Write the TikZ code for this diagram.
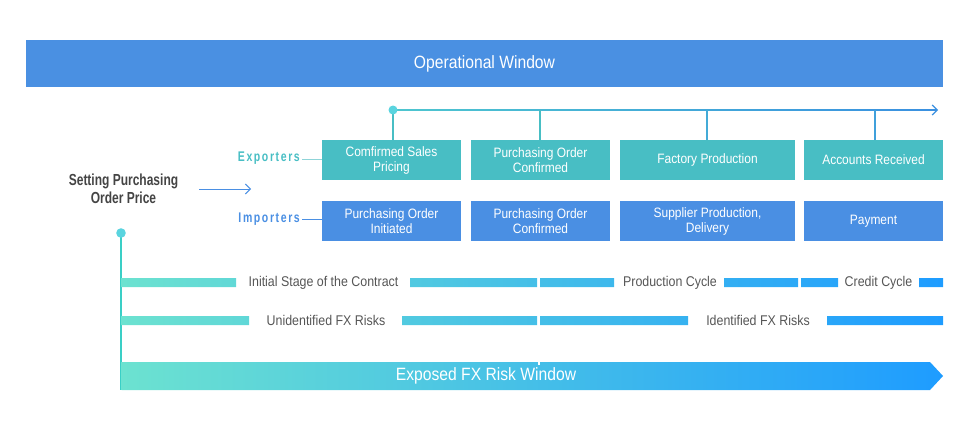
\documentclass[tikz,border=0pt]{standalone}
\usepackage{fontspec}
\setmainfont{Liberation Sans}[FakeStretch=0.88]
\newfontfamily\condbold{Liberation Sans Bold}[FakeStretch=0.75]
\newfontfamily\spacedfont{Liberation Sans Bold}[FakeStretch=0.75,LetterSpace=11.5]
\usetikzlibrary{arrows.meta}
\definecolor{banner}{HTML}{4A90E2}
\definecolor{tealbox}{HTML}{48BEC4}
\definecolor{bluebox}{HTML}{4A8FE3}
\definecolor{graytext}{HTML}{555555}
\definecolor{darktext}{HTML}{444444}
\definecolor{gA}{HTML}{6CE2D0}
\definecolor{gB}{HTML}{1E9CFF}
\definecolor{tlA}{HTML}{4EC6CF}
\definecolor{tlB}{HTML}{3A90E0}
\definecolor{dotc}{HTML}{5AD4DF}
\definecolor{vline}{HTML}{3ACFC6}
\definecolor{explink}{HTML}{8FD4D8}
\tikzset{
  expbox/.style={fill=tealbox, text=white, inner sep=0pt, minimum height=40pt, align=center, font=\fontsize{13.6}{15}\selectfont},
  impbox/.style={fill=bluebox, text=white, inner sep=0pt, minimum height=40pt, align=center, font=\fontsize{13.6}{15}\selectfont},
  barlabel/.style={text=graytext, inner sep=0pt, font=\fontsize{14.1}{16}\selectfont},
  sidelabel/.style={inner sep=0pt, anchor=east, font=\spacedfont\fontsize{14}{16}\selectfont},
  openarrow/.style={-{Straight Barb[length=5pt,width=10pt]}},
}
\begin{document}
\begin{tikzpicture}[x=1pt,y=-1pt]
\useasboundingbox (0,0) rectangle (976,428);
% banner
\node[fill=banner, text=white, minimum width=917pt, minimum height=47pt, inner sep=0pt,
      font=\fontsize{17.8}{20}\selectfont] (banner) at (484.5,63.5) {Operational Window};
% exporter boxes
\node[expbox, minimum width=139pt] (e1) at (391.5,160) {Comfirmed Sales\\Pricing};
\node[expbox, minimum width=139pt] (e2) at (540.5,160) {Purchasing Order\\Confirmed};
\node[expbox, minimum width=175pt] (e3) at (707.5,160) {Factory Production};
\node[expbox, minimum width=139pt] (e4) at (873.5,160) {Accounts Received};
% importer boxes
\node[impbox, minimum width=139pt] (i1) at (391.5,221) {Purchasing Order\\Initiated};
\node[impbox, minimum width=139pt] (i2) at (540.5,221) {Purchasing Order\\Confirmed};
\node[impbox, minimum width=175pt] (i3) at (707.5,221) {Supplier Production,\\Delivery};
\node[impbox, minimum width=139pt] (i4) at (873.5,221) {Payment};
% side labels
\node[sidelabel, text=tealbox] (exp) at (300,158.5) {Exporters};
\node[sidelabel, text=bluebox] (imp) at (300,219) {Importers};
\draw[explink, line width=1pt] (exp.east) ++(2,0.5) coordinate (expS) -- (expS -| e1.west);
\draw[bluebox, line width=1pt] (imp.east) ++(2,0) coordinate (impS) -- (impS -| i1.west);
% setting purchasing order price
\node[text=darktext, align=center, inner sep=0pt, font=\condbold\fontsize{16}{18}\selectfont] (set) at (123.5,189) {Setting Purchasing\\Order Price};
\coordinate (arrS) at (199,189);
\coordinate (arrE) at (251,189);
\draw[bluebox, line width=1pt, openarrow] (arrS) -- (arrE);
% timeline
\coordinate (t0) at (393,110);
\coordinate (tE) at (938,110);
\shade[left color=tlA, right color=tlB] (393,109.4) rectangle (934,110.6);
\draw[tlB, line width=1.2pt, openarrow] (928,110) -- (tE);
\draw[tealbox, line width=1.2pt] (t0) -- (t0 |- e1.north);
\draw[tealbox, line width=1.2pt] (540,110) -- (540,140);
\draw[tlA!50!tlB, line width=1.2pt] (707,110) -- (707,140);
\draw[tlA!30!tlB, line width=1.2pt] (875,110) -- (875,140);
\fill[dotc] (t0) circle (4.5pt);
% left vertical
\coordinate (d0) at (121,233);
\coordinate (dB) at (121,390);
\draw[vline, line width=1.3pt] (d0) -- (dB);
\fill[dotc] (d0) circle (4.8pt);
% gradient bars
\begin{scope}
\clip (121,278) rectangle (236,287)
      (410,278) rectangle (537,287)
      (540,278) rectangle (614,287)
      (724,278) rectangle (798,287)
      (801,278) rectangle (838,287)
      (919,278) rectangle (943,287)
      (121,316) rectangle (249,325)
      (402,316) rectangle (537,325)
      (540,316) rectangle (688,325)
      (827,316) rectangle (943,325)
      (121.7,362) -- (930,362) -- (943,376) -- (930,390) -- (121.7,390) -- cycle;
\shade[left color=gA, right color=gB] (121,270) rectangle (943,392);
\end{scope}
\draw[white, line width=2pt] (538.5,361) -- (538.5,364.5);
% bar labels
\node[barlabel] (l1) at (323.5,282.5) {Initial Stage of the Contract};
\node[barlabel] (l2) at (670,282.5) {Production Cycle};
\node[barlabel] (l3) at (878.5,282.5) {Credit Cycle};
\node[barlabel] (l4) at (326,320.5) {Unidentified FX Risks};
\node[barlabel] (l5) at (758,320.5) {Identified FX Risks};
\node[text=white, inner sep=0pt, font=\fontsize{17.8}{20}\selectfont] (risk) at (486,376) {Exposed FX Risk Window};
\end{tikzpicture}
\end{document}
